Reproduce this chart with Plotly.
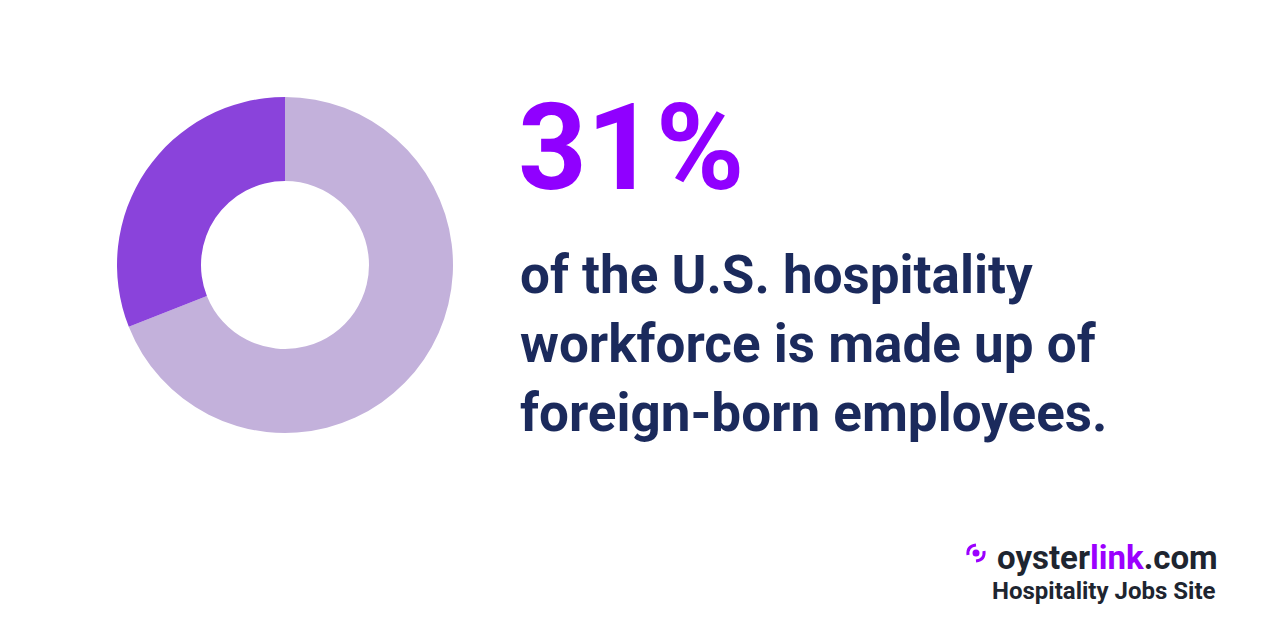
import plotly.graph_objects as go

labels = ["U.S.-born", "Foreign-born"]
values = [69, 31]
colors = ["#C3B1DB", "#8A43DB"]

headline = "31%"
body_lines = ["of the U.S. hospitality", "workforce is made up of", "foreign-born employees."]
brand_parts = ["oyster", "link", ".com"]
tagline = "Hospitality Jobs Site"

W, H = 1280, 640
OFF = 8  # page body margin

fig = go.Figure()
fig.add_trace(go.Pie(
    labels=labels, values=values, hole=0.5, sort=False, direction="counterclockwise",
    rotation=0, marker=dict(colors=colors, line=dict(width=0)), textinfo="none",
    hoverinfo="label+percent", showlegend=False,
    domain=dict(x=[(117 - OFF) / W, (453 - OFF) / W],
                y=[(H - 433 + OFF) / H, (H - 97 + OFF) / H]),
))

def px(x):
    return (x - OFF) / W

def py(y):
    return (H - y + OFF) / H

ann = []
ann.append(dict(x=px(516), y=py(148.5), xref="paper", yref="paper", xanchor="left", yanchor="middle",
                text=f"<b>{headline}</b>", showarrow=False,
                font=dict(family="Roboto", size=120, color="#9000FF")))
for i, line in enumerate(body_lines):
    ann.append(dict(x=px(518), y=py(274.5 + 69 * i), xref="paper", yref="paper", xanchor="left",
                    yanchor="middle", text=f"<b>{line}</b>", showarrow=False,
                    font=dict(family="Roboto", size=53, color="#1B2A5C")))
brand = (f"<b><span style='color:#1E2530'>{brand_parts[0]}</span>"
         f"<span style='color:#9B00FF'>{brand_parts[1]}</span>"
         f"<span style='color:#1E2530'>{brand_parts[2]}</span></b>")
ann.append(dict(x=px(1220), y=py(557), xref="paper", yref="paper", xanchor="right", yanchor="middle",
                text=brand, showarrow=False, font=dict(family="Roboto", size=33, color="#1E2530")))
ann.append(dict(x=px(1218), y=py(591), xref="paper", yref="paper", xanchor="right", yanchor="middle",
                text=f"<b>{tagline}</b>", showarrow=False,
                font=dict(family="Roboto", size=24, color="#1E2530")))

# small logo icon
cx, cy = 976, 553
shapes = [
    dict(type="circle", xref="paper", yref="paper", x0=px(cx - 3.5), x1=px(cx + 3.5),
         y0=py(cy + 3.5), y1=py(cy - 3.5), fillcolor="#9B00FF", line=dict(width=0)),
    dict(type="path", xref="paper", yref="paper",
         path=f"M {px(cx-8)},{py(cy+2)} Q {px(cx-9)},{py(cy-7)} {px(cx)},{py(cy-8)}",
         line=dict(color="#9B00FF", width=3)),
    dict(type="path", xref="paper", yref="paper",
         path=f"M {px(cx+8)},{py(cy-2)} Q {px(cx+9)},{py(cy+7)} {px(cx)},{py(cy+8)}",
         line=dict(color="#9B00FF", width=3)),
]

fig.update_layout(
    width=W, height=H, margin=dict(l=0, r=0, t=0, b=0),
    paper_bgcolor="white", plot_bgcolor="white",
    annotations=ann, shapes=shapes,
)
fig.write_html("out.html")
